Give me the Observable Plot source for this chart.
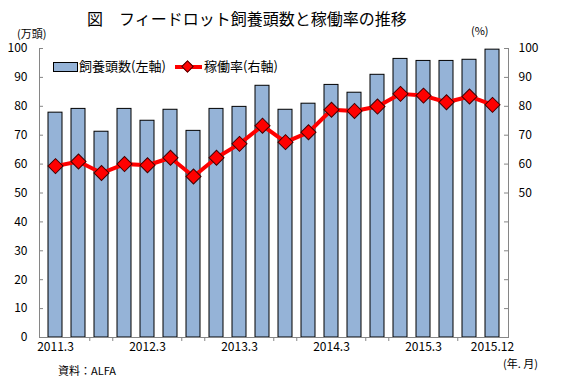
<!DOCTYPE html>
<html><head><meta charset="utf-8">
<script src="https://cdn.jsdelivr.net/npm/d3@7"></script>
<script src="https://cdn.jsdelivr.net/npm/@observablehq/plot@0.6"></script>
<style>
body{margin:0;background:#fff;font-family:"Noto Sans CJK JP",sans-serif;color:#000;}
#wrap{position:relative;width:568px;height:385px;overflow:hidden;}
#chart{position:absolute;left:0;top:0;}
.t{position:absolute;white-space:pre;}
#title{left:87px;top:8px;font-size:16px;line-height:20px;}
.sm{font-size:11px;line-height:12px;}
.lg{font-size:13px;line-height:16px;}
</style></head><body>
<div id="wrap">
<div id="chart"></div>
<div class="t" id="title"></div>
<div class="t sm" id="unitL" style="left:17px;top:27px"></div>
<div class="t sm" id="unitR" style="left:471px;top:24px"></div>
<div class="t sm" id="unitX" style="left:503px;top:357px"></div>
<div class="t sm" id="source" style="left:58px;top:364px"></div>
<div id="lgBox" style="position:absolute;left:53px;top:62px;width:23px;height:8px;border:1px solid #000;"></div>
<div class="t lg" id="lgText1" style="left:79px;top:58px"></div>
<div id="lgLine" style="position:absolute;left:175px;top:65px;width:27px;height:4px;background:#ff0000;"></div>
<div id="lgDot" style="position:absolute;left:183px;top:62px;width:9px;height:9px;background:#ff0000;border:1px solid #400000;transform:rotate(45deg);box-sizing:border-box;"></div>
<div class="t lg" id="lgText2" style="left:204px;top:58px"></div>
</div>
<script>
// ---- data ----
const titleText = "図\u3000フィードロット飼養頭数と稼働率の推移";
const periods = [
  "2011.3","2011.6","2011.9","2011.12",
  "2012.3","2012.6","2012.9","2012.12",
  "2013.3","2013.6","2013.9","2013.12",
  "2014.3","2014.6","2014.9","2014.12",
  "2015.3","2015.6","2015.9","2015.12"
];
const heads = [77.8, 79.1, 71.2, 79.1, 75.0, 78.8, 71.5, 79.1, 79.8, 87.1,
               78.8, 80.9, 87.4, 84.7, 90.9, 96.4, 95.7, 95.7, 96.1, 99.6];
const rates = [59.3, 60.9, 56.9, 60.0, 59.6, 62.2, 55.7, 62.2, 67.0, 73.3,
               67.6, 71.0, 78.8, 78.4, 79.9, 84.3, 83.7, 81.4, 83.4, 80.5];
const xLabels = ["2011.3","2012.3","2013.3","2014.3","2015.3","2015.12"];
const leftTicks = [0,10,20,30,40,50,60,70,80,90,100];
const rightTickLabels = [50,60,70,80,90,100];
const seriesNames = ["飼養頭数(左軸)", "稼働率(右軸)"];
const unitLeft = "(万頭)", unitRight = "(%)", unitX = "(年. 月)", sourceText = "資料：ALFA";

// ---- colours ----
const barFill = "#95b3d7";
const lineColor = "#ff0000";
const axisGray = "#868686";

document.getElementById("title").textContent = titleText;
document.getElementById("unitL").textContent = unitLeft;
document.getElementById("unitR").textContent = unitRight;
document.getElementById("unitX").textContent = unitX;
document.getElementById("source").textContent = sourceText;
document.getElementById("lgText1").textContent = seriesNames[0];
document.getElementById("lgText2").textContent = seriesNames[1];
document.getElementById("lgBox").style.background = barFill;

const data = periods.map((p, i) => ({p, heads: heads[i], rate: rates[i]}));
const W = 568, H = 385, mL = 39, mR = 60, mT = 48, mB = 48;
const frameW = W - mL - mR;
const step = frameW / periods.length;
const boundaryTicks = periods.filter((p, k) =>
  k > 0 && !xLabels.includes(periods[k - 1]) && !xLabels.includes(p));

const chart = Plot.plot({
  width: W, height: H,
  marginLeft: mL, marginRight: mR, marginTop: mT, marginBottom: mB,
  style: {fontFamily: "'Noto Sans CJK JP', sans-serif", fontSize: "12px", color: "#000", background: "#fff"},
  x: {type: "band", domain: periods, paddingInner: 0.4, paddingOuter: 0.2, axis: null},
  y: {domain: [0, 100], axis: null},
  marks: [
    Plot.barY(data, {x: "p", y: "heads", fill: barFill, stroke: "#000", strokeWidth: 1}),
    Plot.ruleY([0], {stroke: axisGray}),
    Plot.frame({anchor: "left", stroke: axisGray}),
    Plot.frame({anchor: "right", stroke: axisGray}),
    Plot.tickY(leftTicks, {y: d => d, stroke: axisGray, insetRight: frameW - 4}),
    Plot.tickY(leftTicks, {y: d => d, stroke: axisGray, insetLeft: frameW - 4}),
    Plot.axisY(leftTicks, {anchor: "left", tickSize: 0, tickPadding: 12, label: null}),
    Plot.axisY(rightTickLabels, {anchor: "right", tickSize: 0, tickPadding: 10, label: null}),
    Plot.axisX(xLabels, {anchor: "bottom", tickSize: 0, tickPadding: 5, label: null}),
    Plot.axisX(boundaryTicks, {anchor: "bottom", tickSize: 4, tickFormat: () => "", dx: -step / 2, stroke: axisGray, label: null}),
    Plot.line(data, {x: "p", y: "rate", stroke: lineColor, strokeWidth: 4}),
    Plot.dot(data, {x: "p", y: "rate", symbol: "square", r: 6, rotate: 45, fill: lineColor, stroke: "#400000", strokeWidth: 1})
  ]
});
document.getElementById("chart").appendChild(chart);
</script>
</body></html>
